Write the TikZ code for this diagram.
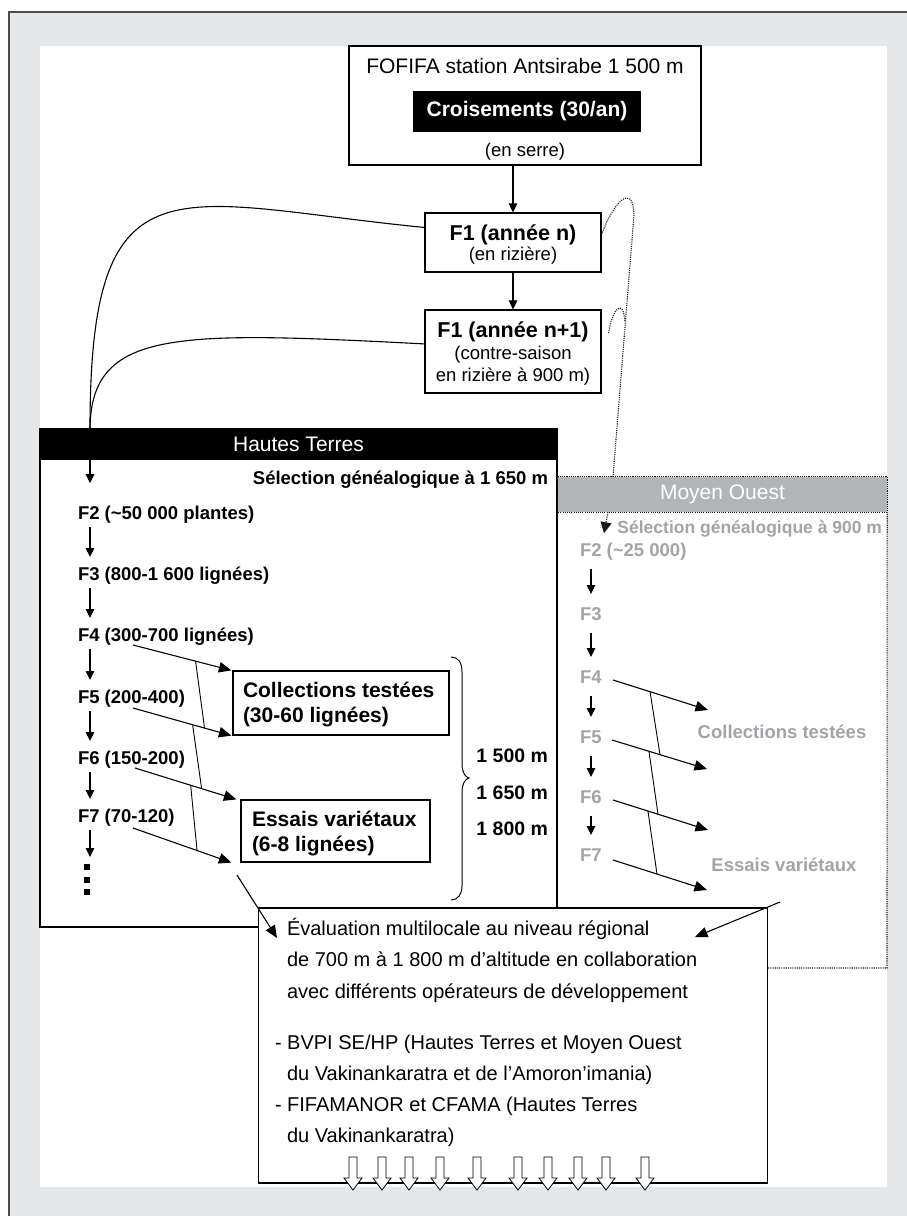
\documentclass[tikz,border=0pt]{standalone}
\usepackage{fontspec}
\setmainfont{Liberation Sans}
\usetikzlibrary{arrows.meta,calc}
\definecolor{bggray}{HTML}{E6E7E8}
\definecolor{mogray}{HTML}{B3B4B6}
\definecolor{txtgray}{HTML}{A2A4A7}
\definecolor{framegray}{HTML}{4D4D4D}
\newcommand\myfs[1]{\fontsize{#1}{#1}\selectfont}
\begin{document}
\begin{tikzpicture}[x=1pt,y=-1pt,
  box/.style={draw=black, line width=1.2pt, fill=white, inner sep=0pt},
  t/.style={inner sep=0pt, outer sep=0pt},
  lab/.style={t, font=\myfs{18.5}\bfseries, text height=13.5pt, text depth=4pt},
  glab/.style={lab, text=txtgray},
  big/.style={t, font=\myfs{21}\bfseries},
  reg/.style={t, font=\myfs{18.5}},
  ev/.style={t, font=\myfs{20}, anchor=base west},
  arr/.style={line width=1.1pt, -{Triangle[length=9pt,width=8.5pt]}},
  darr/.style={line width=1.1pt, -{Triangle[length=12.5pt,width=10.5pt]}},
  link/.style={line width=0.9pt},
  dots/.style={line width=1.1pt, black!90, dash pattern=on 1.1pt off 1.1pt},
]
\useasboundingbox (0,0) rectangle (907,1216);
% background
\fill[bggray] (9,12) rectangle (907,1216);
\draw[framegray, line width=1.5pt] (9,1216) -- (9,12) -- (907,12);
\fill[white] (40,46) rectangle (887,1187);

\coordinate (ax) at (90,0);
\coordinate (bx) at (591,0);
\coordinate (dx) at (613,0);
\coordinate (dx2) at (608,0);

% Hautes Terres frame
\node[box, minimum width=517pt, minimum height=498pt] (ht) at (298.5,678) {};
\node[fill=black, text=white, font=\myfs{21}, minimum width=517pt, minimum height=31pt, inner sep=0pt] (htbar) at (298.5,444.5) {Hautes Terres};

% Moyen Ouest bar
\node[fill=mogray, text=white, font=\myfs{21}, minimum width=329pt, minimum height=35pt, inner sep=0pt] (mobar) at (722.5,494.5) {Moyen Ouest};
\draw[dots] (mobar.south west) rectangle (mobar.north east);

% Evaluation box
\node[box, minimum width=509pt, minimum height=275pt] (eval) at (513,1045.5) {};
\coordinate (mobr) at (887,968);
\draw[dots] (mobr -| eval.east) -- (mobr) -- (mobar.south east);

% top box
\node[box, minimum width=352pt, minimum height=119pt] (top) at (525,105.5) {};
\node[t, font=\myfs{21}, anchor=base] (fofifa) at (525,73) {FOFIFA station Antsirabe 1 500 m};
\node[fill=black, text=white, font=\myfs{21}\bfseries, minimum width=228pt, minimum height=41pt, inner sep=0pt] (crois) at (527,111.5) {Croisements (30/an)};
\node[reg, anchor=base] (serre) at (525,156.5) {(en serre)};

% F1 boxes
\node[box, minimum width=176pt, minimum height=59pt] (f1a) at (513,242.5) {};
\node[t, font=\myfs{21.5}\bfseries, anchor=base] (f1at) at (513,240.5) {F1 (année n)};
\node[reg, anchor=base] (f1as) at (513,260.5) {(en rizière)};
\node[box, minimum width=176pt, minimum height=83pt] (f1b) at (513,351.5) {};
\node[t, font=\myfs{21.5}\bfseries, anchor=base] (f1bt) at (513,337.5) {F1 (année n+1)};
\node[reg, anchor=base] (f1bs1) at (513,359.5) {(contre-saison};
\node[reg, anchor=base] (f1bs2) at (513,381.5) {en rizière à 900 m)};

\draw[arr] (f1a.north |- top.south) -- (f1a.north);
\draw[arr] (f1a.south) -- (f1b.north);

% curves to Hautes Terres
\coordinate (c1s) at ($(f1a.north west)!0.25!(f1a.south west)$);
\coordinate (c2s) at ($(f1b.north west)!0.41!(f1b.south west)$);
\draw[line width=1.1pt] (c1s) .. controls (175,203) and (90,149) .. (htbar.north -| ax);
\draw[line width=1.1pt] (c2s) .. controls (175,331) and (91,329) .. (htbar.north -| ax);
\draw[arr] (htbar.south -| ax) -- ++(0,23);

% dotted curves to Moyen Ouest
\coordinate (d1s) at ($(f1a.north east)!0.37!(f1a.south east)$);
\coordinate (d2s) at ($(f1b.north east)!0.28!(f1b.south east)+(7,0)$);
\draw[dots] (d1s) .. controls (612,205) and (633,180) .. (634,215) -- (mobar.north -| dx);
\draw[dots] (d2s) .. controls (612,310) and (623,296) .. (625,322);
\draw[dots,-{Triangle[length=11pt,width=11pt]}] (mobar.south -| dx2) -- ++(-4,21);

% Hautes Terres column
\node[lab, anchor=base east] (selht) at (548,484.5) {Sélection généalogique à 1 650 m};
\node[lab, anchor=base west] (f2) at (78,519.5) {F2 (\textasciitilde 50 000 plantes)};
\node[lab, anchor=base west] (f3) at (78,580.5) {F3 (800-1 600 lignées)};
\node[lab, anchor=base west] (f4) at (78,641.5) {F4 (300-700 lignées)};
\node[lab, anchor=base west] (f5) at (78,703.5) {F5 (200-400)};
\node[lab, anchor=base west] (f6) at (78,764.5) {F6 (150-200)};
\node[lab, anchor=base west] (f7) at (78,822.5) {F7 (70-120)};
\draw[arr] ([yshift=-3.5pt]f2.south -| ax) -- ([yshift=10pt]f3.north -| ax);
\draw[arr] ([yshift=-3.5pt]f3.south -| ax) -- ([yshift=10pt]f4.north -| ax);
\draw[arr] ([yshift=-3.5pt]f4.south -| ax) -- ([yshift=10pt]f5.north -| ax);
\draw[arr] ([yshift=-3.5pt]f5.south -| ax) -- ([yshift=10pt]f6.north -| ax);
\draw[arr] ([yshift=-3.5pt]f6.south -| ax) -- ([yshift=10pt]f7.north -| ax);
\draw[arr] ([yshift=-3.5pt]f7.south -| ax) -- ++(0,27);
\fill (83.5,863.5) rectangle (89.5,869.5);
\fill (83.5,876.5) rectangle (89.5,882.5);
\fill (83.5,888.5) rectangle (89.5,894.5);

\node[box, minimum width=216pt, minimum height=64pt] (coll) at (341,703) {};
\node[big, anchor=base west] (coll1) at (243,697.5) {Collections testées};
\node[big, anchor=base west] (coll2) at (243,722.5) {(30-60 lignées)};
\node[box, minimum width=189pt, minimum height=62pt] (ess) at (335.5,831) {};
\node[big, anchor=base west] (ess1) at (252,826.5) {Essais variétaux};
\node[big, anchor=base west] (ess2) at (252,851.5) {(6-8 lignées)};

\coordinate (a4s) at (133,645);
\coordinate (a5s) at (133,708);
\coordinate (a6s) at (135,768);
\coordinate (a7s) at (133,828);
\draw[darr] (a4s) -- coordinate[pos=0.636] (z4a) ([xshift=-1pt]coll.north west);
\draw[darr] (a5s) -- coordinate[pos=0.727] (z5a) coordinate[pos=0.606] (z5b) ([xshift=-1pt]coll.south west);
\draw[darr] (a6s) -- coordinate[pos=0.657] (z6a) coordinate[pos=0.549] (z6b) ([xshift=-4pt]ess.north west);
\draw[darr] (a7s) -- coordinate[pos=0.651] (z7a) ([xshift=-9pt]ess.south west);
\draw[link] (z4a) -- (z5a);
\draw[link] (z5b) -- (z6a);
\draw[link] (z6b) -- (z7a);

% brace and altitudes
\draw[line width=1pt] (451,657) .. controls (458,657) and (462,662) .. (462,672) -- (462,764)
  .. controls (462,772) and (465,777) .. (469,778) .. controls (465,779) and (462,784) .. (462,792)
  -- (462,886) .. controls (462,894) and (458,900) .. (451,900);
\node[t, font=\myfs{19.5}\bfseries, anchor=base east] (alt1) at (548,762) {1 500 m};
\node[t, font=\myfs{19.5}\bfseries, anchor=base east] (alt2) at (548,799) {1 650 m};
\node[t, font=\myfs{19.5}\bfseries, anchor=base east] (alt3) at (548,835) {1 800 m};

% Moyen Ouest column
\node[glab, font=\myfs{17.5}\bfseries, anchor=base east] (selmo) at (882,533.5) {Sélection généalogique à 900 m};
\node[glab, anchor=base west] (g2) at (580,556.5) {F2 (\textasciitilde 25 000)};
\node[glab, anchor=base west] (g3) at (580,620.5) {F3};
\node[glab, anchor=base west] (g4) at (580,683.5) {F4};
\node[glab, anchor=base west] (g5) at (580,743.5) {F5};
\node[glab, anchor=base west] (g6) at (580,803.5) {F6};
\node[glab, anchor=base west] (g7) at (580,861.5) {F7};
\draw[arr] ([yshift=-8pt]g2.south -| bx) -- ([yshift=13pt]g3.north -| bx);
\draw[arr] ([yshift=-8pt]g3.south -| bx) -- ([yshift=13pt]g4.north -| bx);
\draw[arr] ([yshift=-8pt]g4.south -| bx) -- ([yshift=13pt]g5.north -| bx);
\draw[arr] ([yshift=-8pt]g5.south -| bx) -- ([yshift=13pt]g6.north -| bx);
\draw[arr] ([yshift=-8pt]g6.south -| bx) -- ([yshift=13pt]g7.north -| bx);
\node[glab, anchor=base] (gcoll) at (782,738.5) {Collections testées};
\node[glab, anchor=base] (gess) at (784,871.5) {Essais variétaux};

\coordinate (b4s) at (613,680); \coordinate (b4e) at (708,710);
\coordinate (b5s) at (612,740); \coordinate (b5e) at (707,769);
\coordinate (b6s) at (613,800); \coordinate (b6e) at (708,830);
\coordinate (b7s) at (613,860); \coordinate (b7e) at (707,890);
\draw[darr] (b4s) -- coordinate[pos=0.39] (y4a) (b4e);
\draw[darr] (b5s) -- coordinate[pos=0.505] (y5a) coordinate[pos=0.389] (y5b) (b5e);
\draw[darr] (b6s) -- coordinate[pos=0.474] (y6a) coordinate[pos=0.368] (y6b) (b6e);
\draw[darr] (b7s) -- coordinate[pos=0.468] (y7a) (b7e);
\draw[link] (y4a) -- (y5a);
\draw[link] (y5b) -- (y6a);
\draw[link] (y6b) -- (y7a);

% Evaluation text
\node[ev] (ev1) at (287,935) {Évaluation multilocale au niveau régional};
\node[ev] (ev2) at (287,966) {de 700 m à 1 800 m d’altitude en collaboration};
\node[ev] (ev3) at (287,998) {avec différents opérateurs de développement};
\node[ev] (ev4) at (275,1049) {- BVPI SE/HP (Hautes Terres et Moyen Ouest};
\node[ev] (ev5) at (287,1080) {du Vakinankaratra et de l’Amoron’imania)};
\node[ev] (ev6) at (275,1111) {- FIFAMANOR et CFAMA (Hautes Terres};
\node[ev] (ev7) at (287,1142) {du Vakinankaratra)};

\coordinate (e1s) at (237,875); \coordinate (e1e) at (277,938);
\coordinate (e2s) at (780,902); \coordinate (e2e) at (695,937);
\draw[darr] (e1s) -- (e1e);
\draw[darr] (e2s) -- (e2e);

\foreach \x in {353,382,409,440,477,518,548,578,606,645}
  \draw[line width=0.8pt, fill=white] ({\x-4},1157) -- ({\x+4},1157) -- ({\x+4},1178) -- ({\x+9},1178)
    -- (\x,1190) -- ({\x-9},1178) -- ({\x-4},1178) -- cycle;
\end{tikzpicture}
\end{document}
